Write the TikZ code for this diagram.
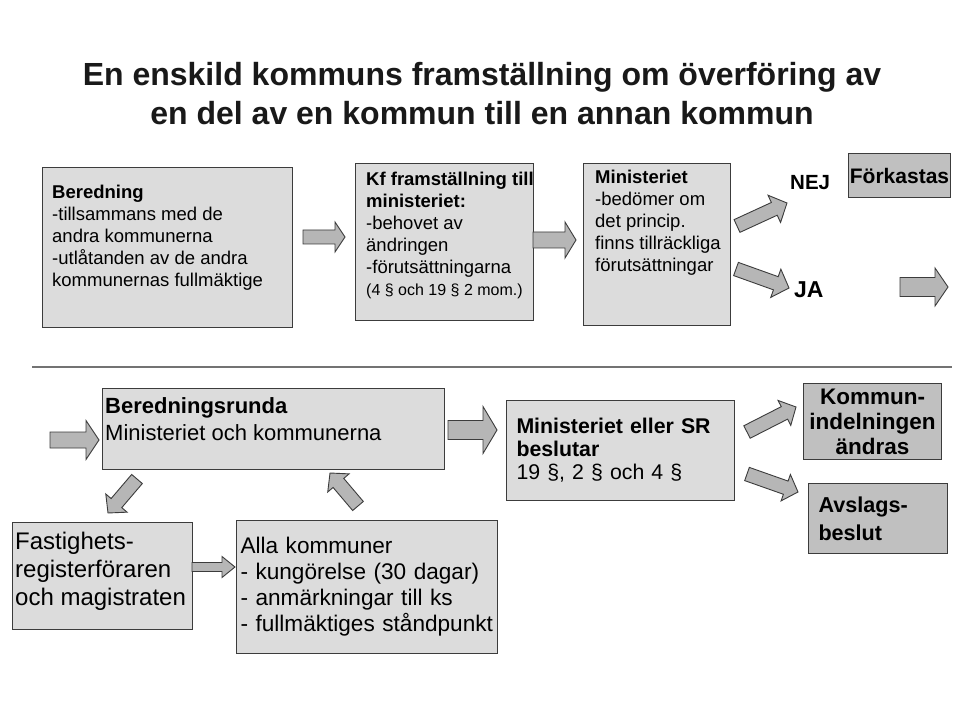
\documentclass[tikz,border=0pt]{standalone}
\usepackage{fontspec}
\setmainfont{Liberation Sans}
\usetikzlibrary{positioning,calc}
\definecolor{ljusgra}{RGB}{220,220,220}
\definecolor{morkgra}{RGB}{192,192,192}
\definecolor{pilgra}{RGB}{182,182,182}
\definecolor{kantgra}{RGB}{60,60,60}
\tikzset{
    panel/.style={
           draw=kantgra, line width=1pt,
           fill=ljusgra,
           anchor=north west,
           inner sep=0pt,
           },
}
\tikzset{
    darkpanel/.style={
           panel,
           fill=morkgra,
           font=\bfseries\fontsize{21.5}{25}\selectfont,
           },
}
\tikzset{
    txt/.style={
           inner sep=0pt,
           align=left,
           font=\fontsize{18.5}{22}\selectfont,
           },
    fat/.style={
           draw=kantgra, line width=0.9pt,
           fill=pilgra,
           line join=miter,
           },
}
% bred pil: fran, till, halv skaftbredd, halv huvudbredd, huvudlangd
\newcommand{\fatarrow}[5]{%
  \draw[fat] let \p1=($(#2)-(#1)$), \n1={atan2(\y1,\x1)}, \n2={veclen(\x1,\y1)} in
    [shift={(#1)}, rotate=\n1]
    (0pt,#3pt) -- (\n2-#5pt,#3pt) -- (\n2-#5pt,#4pt) -- (\n2,0pt)
    -- (\n2-#5pt,-#4pt) -- (\n2-#5pt,-#3pt) -- (0pt,-#3pt) -- cycle;}

\begin{document}
\begin{tikzpicture}[x=1pt,y=-1pt]
\useasboundingbox[fill=white] (0,0) rectangle (964,719);
\node[inner sep=0pt,anchor=north,align=center,font=\bfseries\fontsize{32}{39}\selectfont,text=black!90](rubrik) at (482,62)
  {En enskild kommuns framställning om överföring av\\en del av en kommun till en annan kommun};

% ovre raden
\node[panel,minimum width=250pt,minimum height=160pt](bered) at (42,167) {};
\node[txt,below right=18pt and 10pt of bered.north west](beredT)
  {\textbf{Beredning}\\-tillsammans med de\\andra kommunerna\\-utlåtanden av de andra\\kommunernas fullmäktige};
\node[panel,minimum width=178pt,minimum height=157pt](kf) at (355,163) {};
\node[txt,below right=9pt and 11pt of kf.north west](kfT)
  {\textbf{Kf framställning till}\\\textbf{ministeriet:}\\-behovet av\\ändringen\\-förutsättningarna\\{\fontsize{16}{22}\selectfont(4 § och 19 § 2 mom.)}};
\node[panel,minimum width=147pt,minimum height=162pt](mini) at (583,163) {};
\node[txt,below right=7pt and 12pt of mini.north west](miniT)
  {\textbf{Ministeriet}\\-bedömer om\\det princip.\\finns tillräckliga\\förutsättningar};
\node[txt,font=\bfseries\fontsize{20.5}{24}\selectfont,anchor=north west](nej) at (790,175) {NEJ};
\node[txt,font=\bfseries\fontsize{23}{27}\selectfont,anchor=north west](ja) at (794,281) {JA};
\node[darkpanel,minimum width=102pt,minimum height=44pt,font=\bfseries\fontsize{21}{25}\selectfont](fork) at (848,153) {Förkastas};

\coordinate (p1a) at (303,237); \coordinate (p1b) at (345,237);
\coordinate (p2a) at (533,240); \coordinate (p2b) at (576,240);
\coordinate (p3a) at (737,226); \coordinate (p3b) at (787,203);
\coordinate (p4a) at (736,269); \coordinate (p4b) at (789,288);
\coordinate (p5a) at (900,287); \coordinate (p5b) at (948,287);
\fatarrow{p1a}{p1b}{7}{15}{10}
\fatarrow{p2a}{p2b}{8}{18}{11}
\fatarrow{p3a}{p3b}{7}{15}{14}
\fatarrow{p4a}{p4b}{7}{15}{14}
\fatarrow{p5a}{p5b}{9.5}{19}{13}

\draw[draw=black!55,line width=1.5pt] (32,367) -- (952,367);

% nedre raden
\node[panel,minimum width=342pt,minimum height=81pt](runda) at (102,388) {};
\node[txt,font=\fontsize{22}{27}\selectfont,below right=9pt and 3pt of runda.north west](rundaT)
  {\textbf{Beredningsrunda}\\Ministeriet och kommunerna};
\node[panel,minimum width=228pt,minimum height=100pt,text width=208pt,inner xsep=10pt,align=left,
      font=\fontsize{21.3}{23}\selectfont](beslut) at (506,400)
  {\textbf{Ministeriet eller SR}\\\textbf{beslutar}\\19 §, 2 § och 4 §};
\node[darkpanel,minimum width=138pt,minimum height=76pt,align=center,font=\bfseries\fontsize{22.5}{25}\selectfont](kommun) at (803,383)
  {Kommun-\\indelningen\\ändras};
\node[darkpanel,minimum width=139pt,minimum height=70pt,text width=119pt,inner xsep=10pt,align=left,
      font=\bfseries\fontsize{21.6}{28}\selectfont](avslag) at (808,483)
  {Avslags-\\beslut};
\node[panel,minimum width=180pt,minimum height=107pt](fastig) at (12,522) {};
\node[txt,font=\fontsize{24}{28}\selectfont,below right=10pt and 3pt of fastig.north west](fastigT)
  {Fastighets-\\registerföraren\\och magistraten};
\node[panel,minimum width=261pt,minimum height=133pt,text width=253pt,inner xsep=4pt,align=left,
      font=\fontsize{22.6}{26}\selectfont](alla) at (236,520)
  {Alla kommuner\\- kungörelse (30 dagar)\\- anmärkningar till ks\\- fullmäktiges ståndpunkt};

\coordinate (q1a) at (50,440);  \coordinate (q1b) at (99,440);
\coordinate (q2a) at (448,430); \coordinate (q2b) at (497,430);
\coordinate (q3a) at (747,432); \coordinate (q3b) at (796,407);
\coordinate (q4a) at (747,474); \coordinate (q4b) at (798,492);
\coordinate (q5a) at (137,479); \coordinate (q5b) at (108,513);
\coordinate (q6a) at (358,506); \coordinate (q6b) at (330,473);
\coordinate (q7a) at (192,567); \coordinate (q7b) at (235,567);
\fatarrow{q1a}{q1b}{8}{19.5}{13}
\fatarrow{q2a}{q2b}{9.5}{23.5}{14}
\fatarrow{q3a}{q3b}{7}{14}{13}
\fatarrow{q4a}{q4b}{7}{14}{13}
\fatarrow{q5a}{q5b}{7}{14}{13}
\fatarrow{q6a}{q6b}{7}{14}{13}
\fatarrow{q7a}{q7b}{4.5}{10.5}{13}
\end{tikzpicture}
\end{document}
